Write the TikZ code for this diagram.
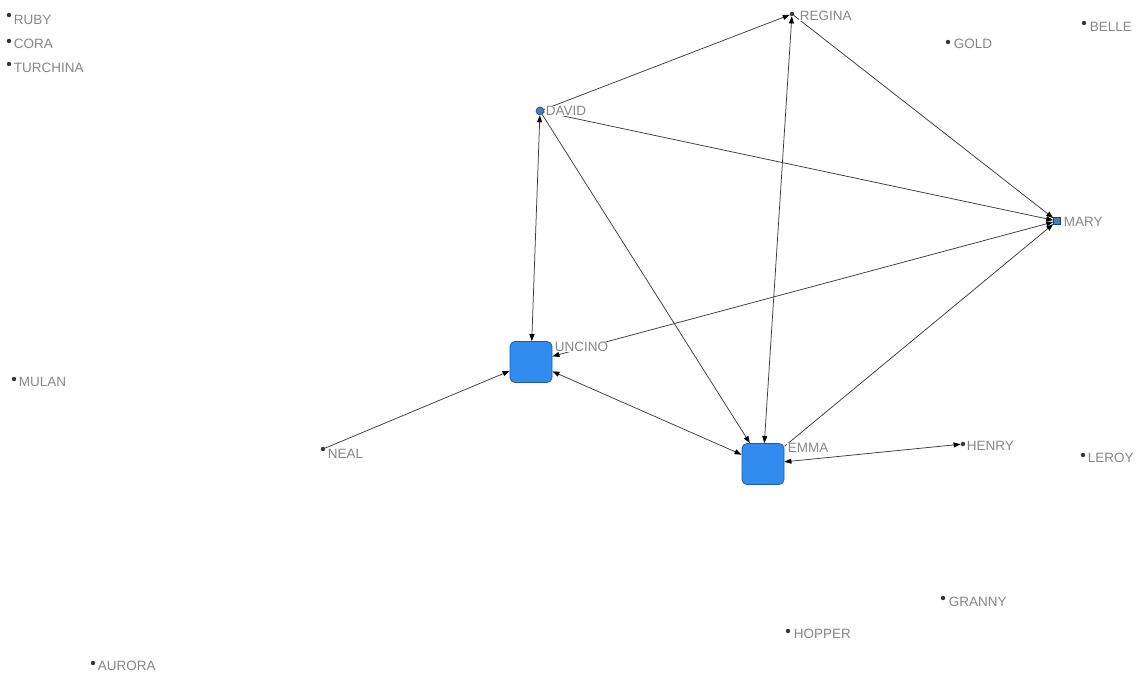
\documentclass[tikz,border=0pt]{standalone}
\usepackage{fontspec}
\setmainfont{Liberation Sans}
\usetikzlibrary{arrows.meta}
\definecolor{boxblue}{RGB}{50,140,240}
\definecolor{boxedge}{RGB}{30,90,170}
\definecolor{hubblue}{RGB}{75,125,180}
\definecolor{labgray}{RGB}{135,135,135}
\definecolor{edgegray}{RGB}{60,60,60}
\definecolor{dotgray}{RGB}{55,55,55}
\tikzset{
  dotnode/.style={circle,fill=dotgray,inner sep=0pt,minimum size=4.4pt},
  bignode/.style={rectangle,rounded corners=5pt,fill=boxblue,draw=boxedge,line width=0.8pt,minimum width=42pt,minimum height=41pt,inner sep=0pt},
  davnode/.style={circle,fill=hubblue,draw=boxedge!80!black,line width=0.6pt,minimum size=8pt,inner sep=0pt},
  marynode/.style={rectangle,fill=hubblue,draw=boxedge!70!black,line width=0.6pt,minimum size=7pt,inner sep=0pt},
  lab/.style={anchor=west,text=labgray,fill=white,inner sep=0.6pt,font=\fontsize{13.5}{14}\selectfont},
  edge/.style={draw=edgegray,line width=0.75pt},
  tip/.tip={Triangle[length=7pt,width=5pt,color=black]},
  oneway/.style={edge,-{tip}},
  twoway/.style={edge,{tip}-{tip}}
}
\begin{document}
\begin{tikzpicture}[x=1pt,y=-1pt]
\useasboundingbox[fill=white] (0,0) rectangle (1138,679);
% isolated / plain nodes
\node[dotnode] (RUBY) at (9,15) {};
\node[dotnode] (CORA) at (9,41) {};
\node[dotnode] (TURCHINA) at (9,64) {};
\node[dotnode] (MULAN) at (14,379) {};
\node[dotnode] (AURORA) at (93,663) {};
\node[dotnode] (NEAL) at (323,449) {};
\node[dotnode] (REGINA) at (792,14) {};
\node[dotnode] (GOLD) at (948,42) {};
\node[dotnode] (BELLE) at (1084,23) {};
\node[dotnode] (HENRY) at (963,444) {};
\node[dotnode] (LEROY) at (1083,455) {};
\node[dotnode] (GRANNY) at (943,598) {};
\node[dotnode] (HOPPER) at (788,631) {};
% hubs
\node[davnode] (DAVID) at (540,111) {};
\node[marynode] (MARY) at (1057,221) {};
\node[bignode] (UNCINO) at (531,362) {};
\node[bignode] (EMMA) at (763,464) {};
% connectors
\draw[oneway] (DAVID) -- (REGINA);
\draw[twoway] (REGINA) -- (EMMA);
\draw[oneway] (REGINA) -- (MARY);
\draw[oneway] (DAVID) -- (MARY);
\draw[twoway] (DAVID) -- (UNCINO);
\draw[oneway] (DAVID) -- (EMMA);
\draw[twoway] (UNCINO) -- (MARY);
\draw[oneway] (NEAL) -- (UNCINO);
\draw[twoway] (UNCINO) -- (EMMA);
\draw[oneway] (EMMA) -- (MARY);
\draw[twoway] (EMMA) -- (HENRY);
% labels
\node[lab] (lRUBY) at (13,20) {RUBY};
\node[lab] (lCORA) at (13,44) {CORA};
\node[lab] (lTURCHINA) at (13,68) {TURCHINA};
\node[lab] (lMULAN) at (18,382) {MULAN};
\node[lab] (lAURORA) at (97,666) {AURORA};
\node[lab] (lNEAL) at (327,454) {NEAL};
\node[lab] (lREGINA) at (799,16) {REGINA};
\node[lab] (lGOLD) at (953,44) {GOLD};
\node[lab] (lBELLE) at (1089,27) {BELLE};
\node[lab] (lDAVID) at (545,111) {DAVID};
\node[lab] (lMARY) at (1063,222) {MARY};
\node[lab] (lUNCINO) at (554,347) {UNCINO};
\node[lab] (lEMMA) at (787,448) {EMMA};
\node[lab] (lHENRY) at (966,446) {HENRY};
\node[lab] (lLEROY) at (1087,458) {LEROY};
\node[lab] (lGRANNY) at (948,602) {GRANNY};
\node[lab] (lHOPPER) at (793,634) {HOPPER};
\end{tikzpicture}
\end{document}
